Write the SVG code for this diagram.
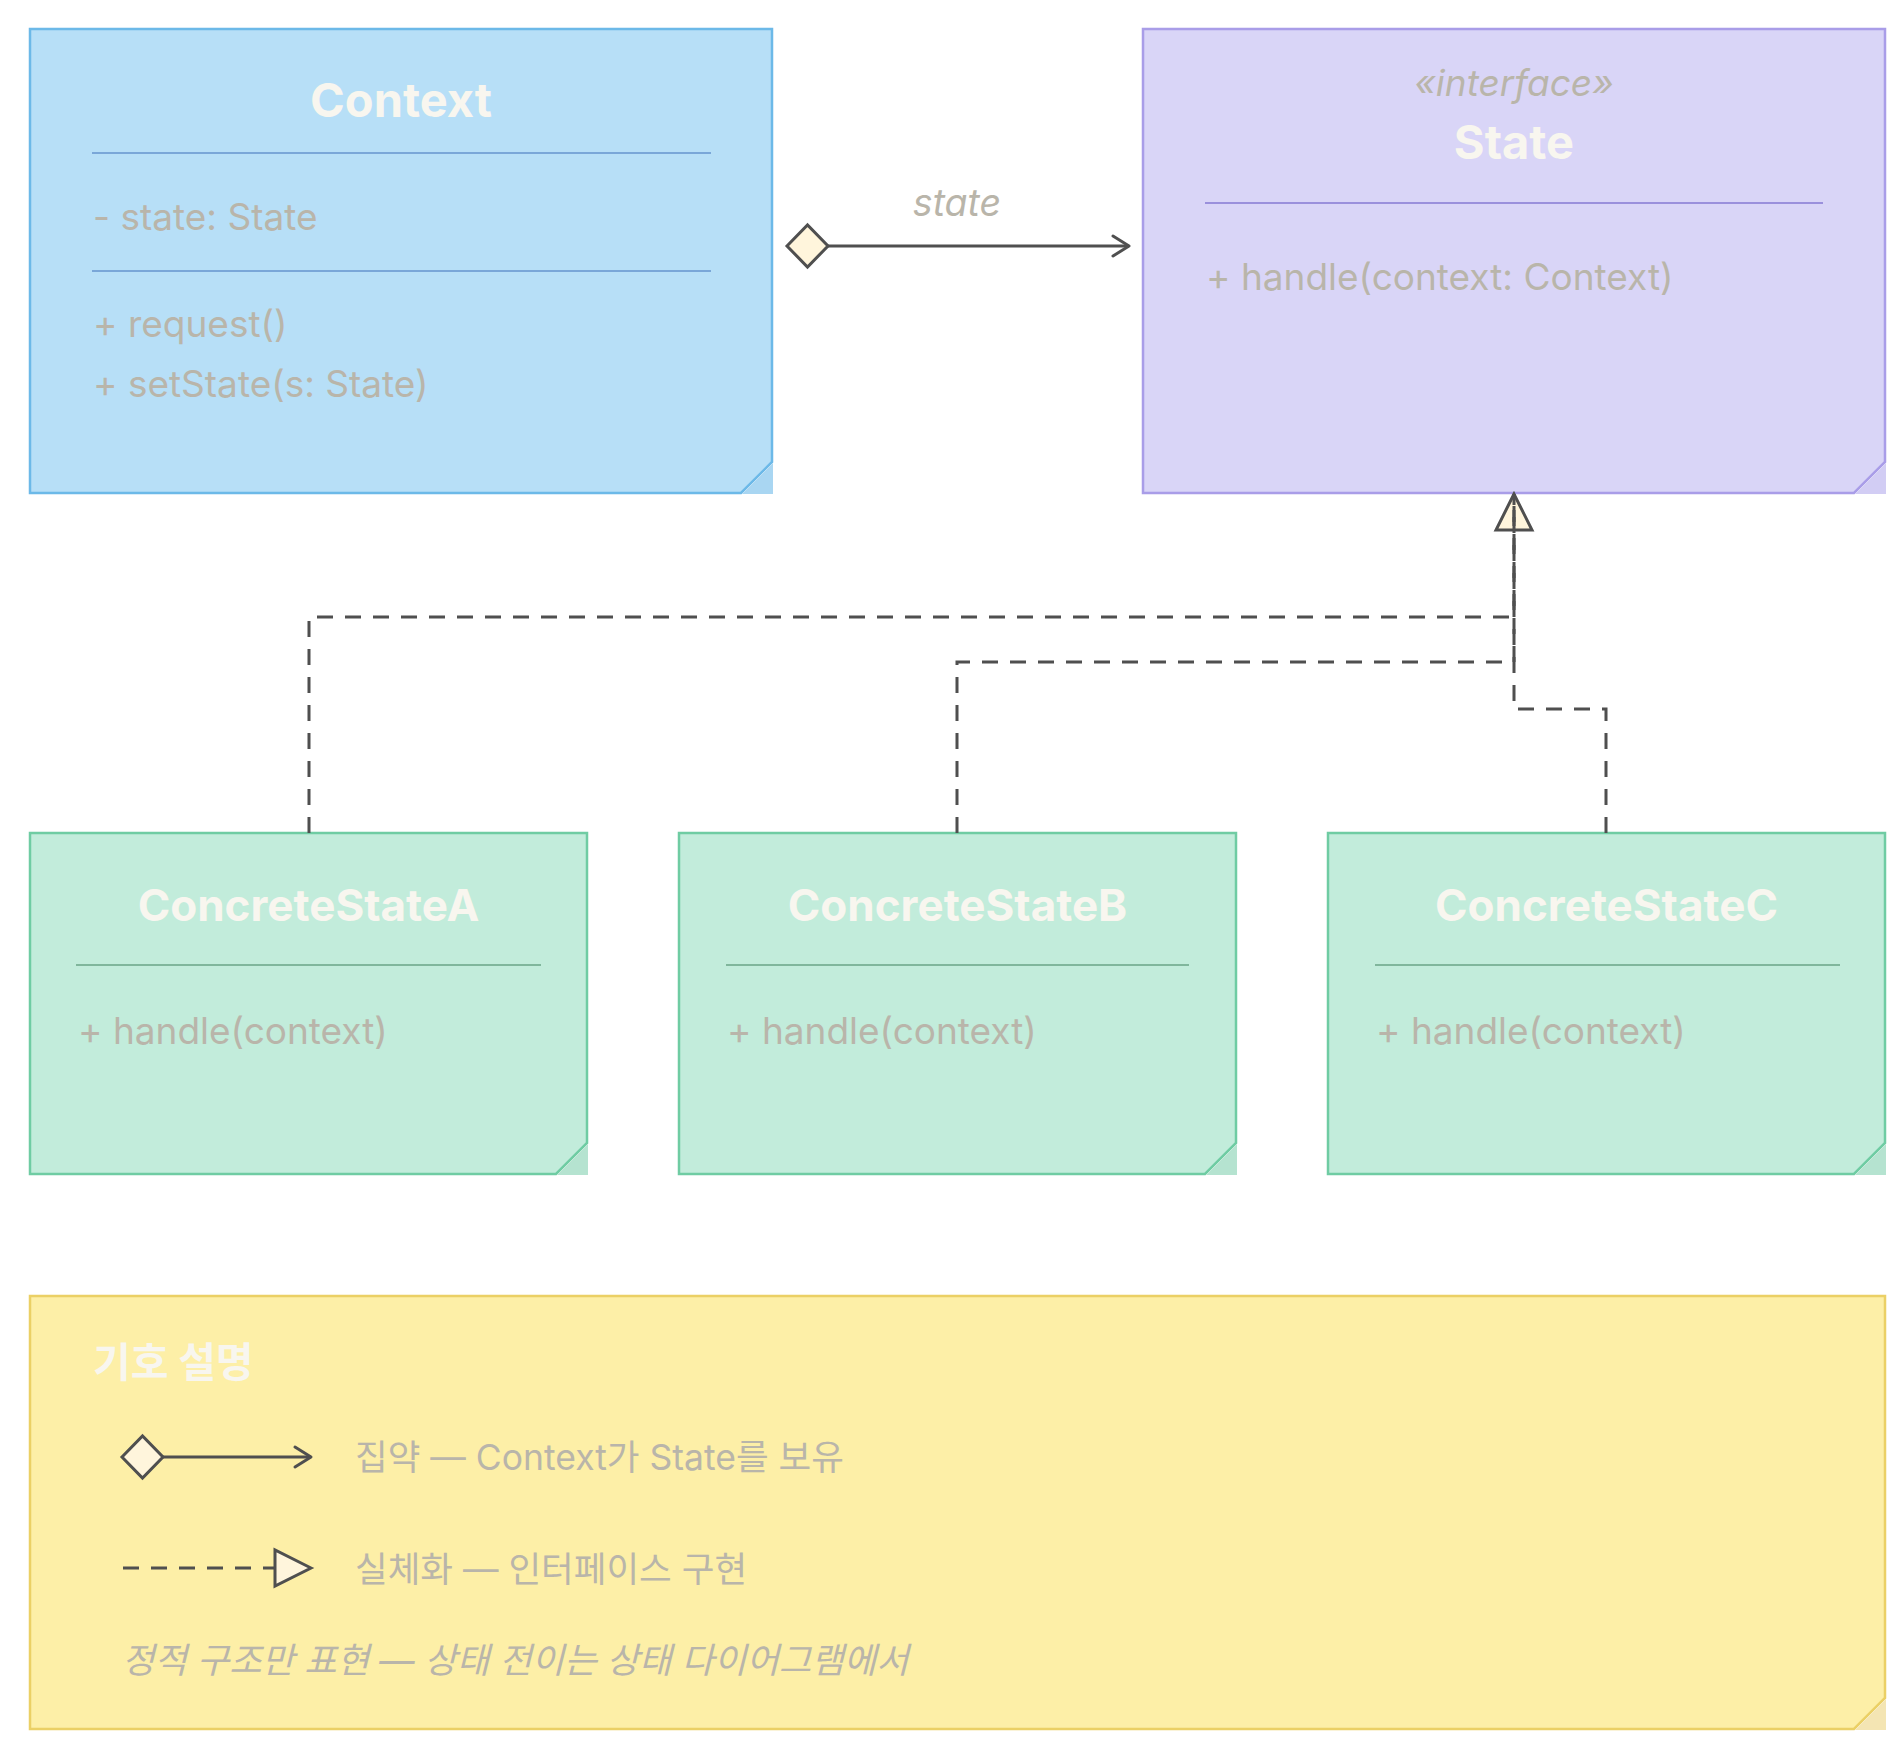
<svg xmlns="http://www.w3.org/2000/svg" width="1902" height="1760" viewBox="0 0 1902 1760">
  <style>
    text { font-family: Inter, "Noto Sans CJK KR", sans-serif; }
    .title { font-size: 44px; font-weight: 700; fill: #f8f6ef; text-anchor: middle; }
    .big { font-size: 47px; }
    .mem { font-size: 37px; fill: #b9b5aa; }
    .leg { font-size: 35.5px; fill: #b9b5aa; }
    .ital { font-style: italic; fill: #b9b5aa; }
    .ctx { fill: #b7dff7; stroke: #6cb9e8; stroke-width: 2.5; }
    .ctxf { fill: #a9d6f2; }
    .ctxd { stroke: #7aa7d8; stroke-width: 2; }
    .st { fill: #d9d5f7; stroke: #a99de8; stroke-width: 2.5; }
    .stf { fill: #d2cdf4; }
    .std { stroke: #9a90dc; stroke-width: 2; }
    .cs { fill: #c2ecdb; stroke: #6fcca3; stroke-width: 2.5; }
    .csf { fill: #b5e3d0; }
    .csd { stroke: #80b69c; stroke-width: 2; }
    .lg { fill: #fdefa7; stroke: #ebd065; stroke-width: 2.5; }
    .lgf { fill: #f4e5b3; }
    .line { fill: none; stroke: #4f4f4f; stroke-width: 3; }
    .dash { stroke-dasharray: 16 12; }
    .hollow { fill: #fff5dc; stroke: #4f4f4f; stroke-width: 3; stroke-linejoin: miter; }
  </style>
  <defs>
    <marker id="diamond" markerUnits="userSpaceOnUse" viewBox="-3 -24 47 48" refX="0" refY="0" markerWidth="47" markerHeight="48" orient="auto">
      <path d="M0 0 L20.5 -21 L41 0 L20.5 21 Z" class="hollow"/>
    </marker>
    <marker id="open" markerUnits="userSpaceOnUse" viewBox="-20 -14 24 28" refX="0" refY="0" markerWidth="24" markerHeight="28" orient="auto">
      <path d="M-16 -10 L0 0 L-16 10" fill="none" stroke="#4f4f4f" stroke-width="3" stroke-linecap="round" stroke-linejoin="round"/>
    </marker>
    <path id="tri" d="M0 0 L-36 -18 L-36 18 Z" class="hollow"/>
  </defs>

  <g id="context">
    <polygon class="ctx" points="30,29 772,29 772,462 741,493 30,493"/>
    <polygon class="ctxf" points="773,463 773,494 742,494"/>
    <text class="title big" x="401" y="117">Context</text>
    <line class="ctxd" x1="92" y1="153" x2="711" y2="153"/>
    <text class="mem" x="93" y="230">- state: State</text>
    <line class="ctxd" x1="92" y1="271" x2="711" y2="271"/>
    <text class="mem" x="93" y="337">+ request()</text>
    <text class="mem" x="93" y="397">+ setState(s: State)</text>
  </g>

  <g id="state">
    <polygon class="st" points="1143,29 1885,29 1885,462 1854,493 1143,493"/>
    <polygon class="stf" points="1886,463 1886,494 1855,494"/>
    <text class="ital" x="1514" y="96" font-size="37" text-anchor="middle">«interface»</text>
    <text class="title big" x="1514" y="159">State</text>
    <line class="std" x1="1205" y1="203" x2="1823" y2="203"/>
    <text class="mem" x="1206" y="290">+ handle(context: Context)</text>
  </g>

  <g id="concreteA">
    <polygon class="cs" points="30,833 587,833 587,1143 556,1174 30,1174"/>
    <polygon class="csf" points="588,1144 588,1175 557,1175"/>
    <text class="title" x="308.5" y="921">ConcreteStateA</text>
    <line class="csd" x1="76" y1="965" x2="541" y2="965"/>
    <text class="mem" x="78" y="1044">+ handle(context)</text>
  </g>

  <g id="concreteB">
    <polygon class="cs" points="679,833 1236,833 1236,1143 1205,1174 679,1174"/>
    <polygon class="csf" points="1237,1144 1237,1175 1206,1175"/>
    <text class="title" x="957.5" y="921">ConcreteStateB</text>
    <line class="csd" x1="726" y1="965" x2="1189" y2="965"/>
    <text class="mem" x="727" y="1044">+ handle(context)</text>
  </g>

  <g id="concreteC">
    <polygon class="cs" points="1328,833 1885,833 1885,1143 1854,1174 1328,1174"/>
    <polygon class="csf" points="1886,1144 1886,1175 1855,1175"/>
    <text class="title" x="1606.5" y="921">ConcreteStateC</text>
    <line class="csd" x1="1375" y1="965" x2="1840" y2="965"/>
    <text class="mem" x="1376" y="1044">+ handle(context)</text>
  </g>

  <g id="connectors">
    <path class="line" d="M787 246 L1129 246" marker-start="url(#diamond)" marker-end="url(#open)"/>
    <text class="ital" x="957" y="216" font-size="37.5" text-anchor="middle">state</text>
    <use href="#tri" transform="translate(1514,494) rotate(-90)"/>
    <path class="line dash" d="M1606 833 L1606 709 L1514 709 L1514 494"/>
    <path class="line dash" d="M957 833 L957 662 L1514 662 L1514 494"/>
    <path class="line dash" d="M309 833 L309 617 L1514 617 L1514 494"/>
  </g>

  <g id="legend">
    <polygon class="lg" points="30,1296 1885,1296 1885,1698 1854,1729 30,1729"/>
    <polygon class="lgf" points="1886,1699 1886,1730 1855,1730"/>
    <text x="93" y="1377" font-size="41" font-weight="700" fill="#f8f6ef">기호 설명</text>
    <path class="line" d="M122 1457 L311 1457" marker-start="url(#diamond)" marker-end="url(#open)"/>
    <text class="leg" x="355" y="1470">집약 — Context가 State를 보유</text>
    <path class="line dash" d="M123 1568 L274 1568"/>
    <use href="#tri" transform="translate(311,1568)"/>
    <text class="leg" x="355" y="1582">실체화 — 인터페이스 구현</text>
    <text class="ital" x="122" y="1673" font-size="35.3">정적 구조만 표현 — 상태 전이는 상태 다이어그램에서</text>
  </g>
</svg>
